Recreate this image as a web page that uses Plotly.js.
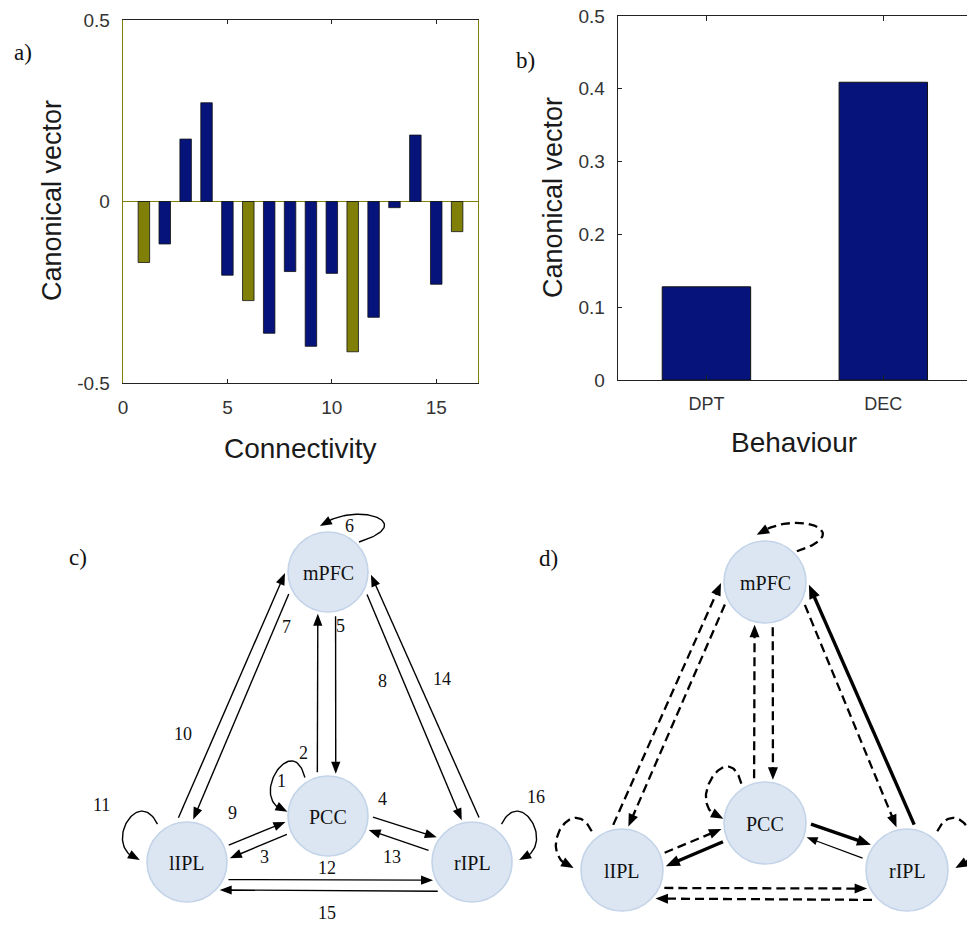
<!DOCTYPE html>
<html><head><meta charset="utf-8">
<script src="https://cdn.plot.ly/plotly-3.0.1.min.js"></script>
<style>html,body{margin:0;padding:0;overflow:hidden;background:#fff}#chart{width:980px;height:926px}</style>
</head><body><div id="chart"></div>
<script>
// ---------------- data ----------------
const connIndex = [1,2,3,4,5,6,7,8,9,10,11,12,13,14,15,16];
const connValues = [-0.168,-0.117,0.172,0.272,-0.203,-0.273,-0.363,-0.193,-0.399,-0.198,-0.414,-0.319,-0.017,0.183,-0.228,-0.083];
const connFrom = ['PCC','PCC','PCC','PCC','mPFC','mPFC','mPFC','mPFC','lIPL','lIPL','lIPL','lIPL','rIPL','rIPL','rIPL','rIPL'];
const connTo   = ['PCC','mPFC','lIPL','rIPL','PCC','mPFC','lIPL','rIPL','PCC','mPFC','lIPL','rIPL','PCC','mPFC','lIPL','rIPL'];
const behaviourLabels = ['DPT','DEC'];
const behaviourValues = [0.128, 0.409];
const regionNames = ['mPFC','PCC','lIPL','rIPL'];

// ---------------- layout geometry (not data) ----------------
const W = 980, H = 926;
const NAVY = '#06137a', OLIVE = '#808008';
const nodeLayout = {
  c: {pos: {mPFC:[328,572], PCC:[328,816], lIPL:[187,862], rIPL:[472,862]}, R: 40},
  d: {pos: {mPFC:[765,582], PCC:[765,823], lIPL:[622,870], rIPL:[907,870]}, R: 41}
};
// port angles (deg, screen) for start / tip of each between-node connection
const ports = {2:[-103.7,103.7],3:[156,-5],4:[1.5,-145],5:[80.3,-79.6],7:[150.7,-81.7],8:[29.9,-103.8],
               9:[-22,172],10:[-101,178.7],12:[23,155],13:[-165,19],14:[-81,3.5],15:[139.5,40.5]};
// self-loop bezier: [angle, dist(R units)] for start, ctrl1, ctrl2, end
const loopShape = {
  mPFC: [[-44,1.08],[-28,2.6],[-68,1.95],[-100,1.17]],
  PCC:  [[-121,1.12],[-112,2.35],[-170,2.1],[-174,1.02]],
  lIPL: [[-128,1.2],[-122,2.3],[-171,2.2],[-177.6,1.18]],
  rIPL: [[-52,1.2],[-58,2.3],[-9,2.2],[-2.4,1.18]]
};
const labelPosC = {1:[281,781],2:[303,753],3:[264,857],4:[382,799],5:[340,626],6:[349,526],7:[286,627],8:[382,681],
  9:[232,813],10:[183,734],11:[101,805],12:[327,868],13:[392,857],14:[442,679],15:[327,913],16:[536,797]};

function pt(panel, node, ang, dist) {
  const p = nodeLayout[panel].pos[node], a = ang*Math.PI/180;
  return [p[0] + dist*Math.cos(a), p[1] + dist*Math.sin(a)];
}

const traces = [];
const shapes = [];
const annotations = [];
// panel a bars
traces.push({
  type:'bar', x: connIndex, y: connValues, width: 0.55,
  marker:{color: connIndex.map((k,i)=> connFrom[i]===connTo[i] ? OLIVE : NAVY), line:{color:'#111', width:0.8}},
  xaxis:'x', yaxis:'y', showlegend:false, hoverinfo:'x+y'
});
// panel b bars
traces.push({
  type:'bar', x: behaviourLabels, y: behaviourValues, width: 0.5,
  marker:{color: NAVY, line:{color:'#111', width:1}},
  xaxis:'x2', yaxis:'y2', showlegend:false
});

function edgeStyle(panel, v) {
  if (panel === 'c') return {width:1.4, dash:'solid', L:12, w:4.6};
  if (Math.abs(v) < 0.05) return {width:1.2, dash:'solid', L:11, w:4.2};
  if (v < 0) return {width:2.3, dash:'9px,5px', L:12.5, w:5};
  return {width:3.4, dash:'solid', L:14, w:5.6};
}

function addEdges(panel) {
  const R = nodeLayout[panel].R;
  connIndex.forEach((k, i) => {
    const st = edgeStyle(panel, connValues[i]);
    let xs = [], ys = [];
    if (connFrom[i] === connTo[i]) {
      const sh = loopShape[connFrom[i]].map(q => pt(panel, connFrom[i], q[0], q[1]*R));
      for (let j = 0; j <= 60; j++) {
        const t = j/60, u = 1-t;
        const b = [u*u*u, 3*u*u*t, 3*u*t*t, t*t*t];
        xs.push(b[0]*sh[0][0]+b[1]*sh[1][0]+b[2]*sh[2][0]+b[3]*sh[3][0]);
        ys.push(b[0]*sh[0][1]+b[1]*sh[1][1]+b[2]*sh[2][1]+b[3]*sh[3][1]);
      }
    } else {
      const s = pt(panel, connFrom[i], ports[k][0], R+5);
      const e = pt(panel, connTo[i], ports[k][1], R+3);
      xs = [s[0], e[0]]; ys = [s[1], e[1]];
    }
    // arrowhead direction: chord from the point ~L before the tip
    const n = xs.length - 1, ex = xs[n], ey = ys[n];
    let j = n - 1;
    while (j > 0 && Math.hypot(ex - xs[j], ey - ys[j]) < st.L) j--;
    let ux = ex - xs[j], uy = ey - ys[j];
    const len = Math.hypot(ux, uy); ux /= len; uy /= len;
    // trim the line so it stops inside the head
    const cut = st.L * 0.7;
    let lx = [], ly = [];
    for (let q = 0; q <= n; q++) {
      if (q === n || Math.hypot(ex - xs[q], ey - ys[q]) > cut) { lx.push(xs[q]); ly.push(ys[q]); }
    }
    lx[lx.length-1] = ex - cut*ux; ly[ly.length-1] = ey - cut*uy;
    traces.push({
      type:'scatter', mode:'lines', x: lx, y: ly, xaxis:'x3', yaxis:'y3',
      line:{color:'#000', width: st.width, dash: st.dash},
      showlegend:false, hoverinfo:'skip', cliponaxis:false
    });
    const bx = ex - st.L*ux, by = ey - st.L*uy, px = -uy, py = ux;
    shapes.push({type:'path', xref:'x3', yref:'y3', layer:'above',
      path:`M${ex},${ey} L${bx + st.w*px},${by + st.w*py} L${bx - st.w*px},${by - st.w*py} Z`,
      fillcolor:'#000', line:{width:0}});
  });
}
addEdges('c');
addEdges('d');

const sans = 'Liberation Sans, Arial, sans-serif';
const serif = 'Liberation Serif, Times New Roman, serif';
['c','d'].forEach(panel => {
  const R = nodeLayout[panel].R;
  regionNames.forEach(n => {
    const p = nodeLayout[panel].pos[n];
    shapes.push({type:'circle', xref:'x3', yref:'y3', x0:p[0]-R, x1:p[0]+R, y0:p[1]-R, y1:p[1]+R,
      fillcolor:'#dce6f2', line:{color:'#c3d3e8', width:1.6}, layer:'below'});
    annotations.push({xref:'x3', yref:'y3', x:p[0], y:p[1]+1, text:n, showarrow:false,
      font:{family:serif, size:20, color:'#111'}});
  });
});
connIndex.forEach(k => {
  const p = labelPosC[k];
  annotations.push({xref:'x3', yref:'y3', x:p[0], y:p[1], text:String(k), showarrow:false,
    font:{family:serif, size:18, color:'#111'}});
});
[['a)',23,52],['b)',525,60],['c)',78,557],['d)',548,558]].forEach(l => {
  annotations.push({xref:'x3', yref:'y3', x:l[1], y:l[2], text:l[0], showarrow:false,
    font:{family:serif, size:23, color:'#111'}});
});
annotations.push({xref:'x3', yref:'y3', x:52, y:201, text:'Canonical vector', textangle:-90, showarrow:false, font:{family:sans, size:27, color:'#1a1a1a'}});
annotations.push({xref:'x3', yref:'y3', x:300, y:448, text:'Connectivity', showarrow:false, font:{family:sans, size:28, color:'#1a1a1a'}});
annotations.push({xref:'x3', yref:'y3', x:553, y:198, text:'Canonical vector', textangle:-90, showarrow:false, font:{family:sans, size:27, color:'#1a1a1a'}});
annotations.push({xref:'x3', yref:'y3', x:794, y:442, text:'Behaviour', showarrow:false, font:{family:sans, size:28, color:'#1a1a1a'}});

const tickfont = {family:sans, size:19, color:'#333'};
const catfont = {family:sans, size:18, color:'#333'};
const layout = {
  width: W, height: H, margin:{l:0, r:0, t:0, b:0},
  paper_bgcolor:'#fff', plot_bgcolor:'rgba(0,0,0,0)', showlegend:false,
  xaxis:{domain:[123/W, 478/W], anchor:'y', range:[0,17], tick0:0, dtick:5, ticks:'inside', ticklen:4,
    tickcolor:'#222', showline:true, linecolor:'#222', linewidth:1.3, mirror:'ticks', showgrid:false,
    zeroline:false, tickfont:tickfont, ticklabelstandoff:7, fixedrange:true},
  yaxis:{domain:[1-383/H, 1-20/H], anchor:'x', range:[-0.5,0.5], tickvals:[-0.5,0,0.5], ticktext:['-0.5','0','0.5'],
    ticks:'', showline:true, linecolor:OLIVE, linewidth:1.3, mirror:true, showgrid:false,
    zeroline:true, zerolinecolor:OLIVE, zerolinewidth:1.5, tickfont:tickfont, ticklabelstandoff:8, fixedrange:true},
  xaxis2:{domain:[618/W, 971.75/W], anchor:'y2', type:'category', range:[-0.5,1.5], ticks:'inside', ticklen:5,
    tickcolor:'#222', showline:true, linecolor:'#222', linewidth:1.3, mirror:'ticks', showgrid:false,
    tickfont:catfont, ticklabelstandoff:7, fixedrange:true},
  yaxis2:{domain:[1-380/H, 1-16/H], anchor:'x2', range:[0,0.5], dtick:0.1, ticks:'inside', ticklen:4,
    tickcolor:'#222', showline:true, linecolor:'#222', linewidth:1.3, mirror:'ticks', showgrid:false,
    zeroline:false, tickfont:tickfont, ticklabelstandoff:8, fixedrange:true},
  xaxis3:{domain:[0,1], anchor:'y3', range:[0,W], visible:false, fixedrange:true},
  yaxis3:{domain:[0,1], anchor:'x3', range:[H,0], visible:false, fixedrange:true},
  shapes: shapes, annotations: annotations
};
Plotly.newPlot('chart', traces, layout, {displayModeBar:false, staticPlot:true});
</script></body></html>
